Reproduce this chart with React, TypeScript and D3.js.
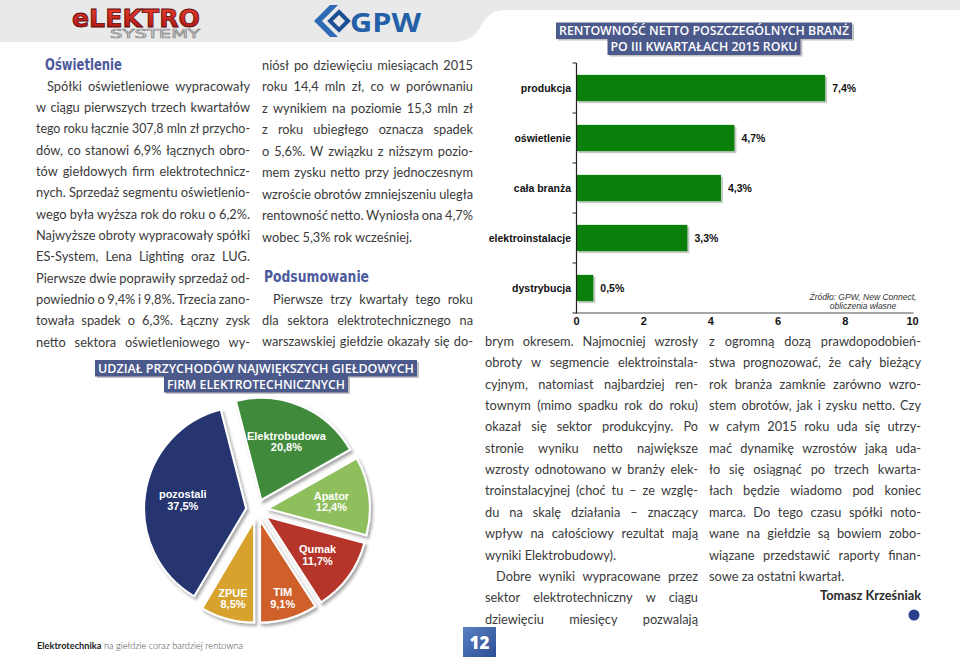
import { useEffect, useRef } from "react";
import * as d3 from "d3";

const W = 960;
const H = 657;

// bar chart: net profitability per segment
const barTitle = ["RENTOWNOŚĆ NETTO POSZCZEGÓLNYCH BRANŻ", "PO III KWARTAŁACH 2015 ROKU"];
const barCategories = ["produkcja", "oświetlenie", "cała branża", "elektroinstalacje", "dystrybucja"];
const barValues = [7.4, 4.7, 4.3, 3.3, 0.5];
const barTicks = [0, 2, 4, 6, 8, 10];
const barSource = ["Źródło: GPW, New Connect,", "obliczenia własne"];

// pie chart: revenue share
const pieTitle = ["UDZIAŁ PRZYCHODÓW  NAJWIĘKSZYCH GIEŁDOWYCH", "FIRM ELEKTROTECHNICZNYCH"];
const pieNames = ["Elektrobudowa", "Apator", "Qumak", "TIM", "ZPUE", "pozostali"];
const pieValues = [20.8, 12.4, 11.7, 9.1, 8.5, 37.5];
const pieColors = ["#3f8a3b", "#8fbf5c", "#b6342a", "#cf6029", "#d7a22e", "#26346f"];

// article text, line by line as set in print
const col1 = {
  heading: "Oświetlenie",
  lines: [
    "Spółki oświetleniowe wypracowały",
    "w ciągu pierwszych trzech kwartałów",
    "tego roku łącznie 307,8 mln zł przycho-",
    "dów, co stanowi 6,9% łącznych obro-",
    "tów giełdowych firm elektrotechnicz-",
    "nych. Sprzedaż segmentu oświetlenio-",
    "wego była wyższa rok do roku o 6,2%.",
    "Najwyższe obroty wypracowały spółki",
    "ES-System, Lena Lighting oraz LUG.",
    "Pierwsze dwie poprawiły sprzedaż od-",
    "powiednio o 9,4% i 9,8%. Trzecia zano-",
    "towała spadek o 6,3%. Łączny zysk",
    "netto sektora oświetleniowego wy-",
  ],
};
const col2a = [
  "niósł po dziewięciu miesiącach 2015",
  "roku 14,4 mln zł, co w porównaniu",
  "z wynikiem na poziomie 15,3 mln zł",
  "z roku ubiegłego oznacza spadek",
  "o 5,6%. W związku z niższym pozio-",
  "mem zysku netto przy jednoczesnym",
  "wzroście obrotów zmniejszeniu uległa",
  "rentowność netto. Wyniosła ona 4,7%",
  "wobec 5,3% rok wcześniej.",
];
const col2Heading = "Podsumowanie";
const col2b = [
  "Pierwsze trzy kwartały tego roku",
  "dla sektora elektrotechnicznego na",
  "warszawskiej giełdzie okazały się do-",
];
const col3a = [
  "brym okresem. Najmocniej wzrosły",
  "obroty w segmencie elektroinstala-",
  "cyjnym, natomiast najbardziej ren-",
  "townym (mimo spadku rok do roku)",
  "okazał się sektor produkcyjny. Po",
  "stronie wyniku netto największe",
  "wzrosty odnotowano w branży elek-",
  "troinstalacyjnej (choć tu – ze wzglę-",
  "du na skalę działania – znaczący",
  "wpływ na całościowy rezultat mają",
  "wyniki Elektrobudowy).",
];
const col3b = [
  "Dobre wyniki wypracowane przez",
  "sektor elektrotechniczny w ciągu",
  "dziewięciu miesięcy pozwalają",
];
const col4 = [
  "z ogromną dozą prawdopodobień-",
  "stwa prognozować, że cały bieżący",
  "rok branża zamknie zarówno wzro-",
  "stem obrotów, jak i zysku netto. Czy",
  "w całym 2015 roku uda się utrzy-",
  "mać dynamikę wzrostów jaką uda-",
  "ło się osiągnąć po trzech kwarta-",
  "łach będzie wiadomo pod koniec",
  "marca. Do tego czasu spółki noto-",
  "wane na giełdzie są bowiem zobo-",
  "wiązane przedstawić raporty finan-",
  "sowe za ostatni kwartał.",
];
const author = "Tomasz Krześniak";
const footer = ["Elektrotechnika", " na giełdzie coraz bardziej rentowna"];
const pageNo = "12";

const fmt = (v: number) => v.toFixed(1).replace(".", ",") + "%";

const App = () => {
  const svgRef = useRef<SVGSVGElement>(null);

  useEffect(() => {
    const svg = d3.select(svgRef.current);
    svg.selectAll("*").remove();

    const defs = svg.append("defs");
    const shadow = defs.append("filter").attr("id", "pieShadow")
      .attr("x", "-20%").attr("y", "-20%").attr("width", "140%").attr("height", "140%");
    shadow.append("feDropShadow").attr("dx", 2).attr("dy", 2.5).attr("stdDeviation", 1.8)
      .attr("flood-color", "#000").attr("flood-opacity", 0.35);

    const redGrad = defs.append("linearGradient").attr("id", "redGrad")
      .attr("x1", 0).attr("y1", 0).attr("x2", 0).attr("y2", 1);
    redGrad.append("stop").attr("offset", "0%").attr("stop-color", "#f0412f");
    redGrad.append("stop").attr("offset", "100%").attr("stop-color", "#a30f10");

    const pageGrad = defs.append("linearGradient").attr("id", "pageGrad")
      .attr("x1", 0).attr("y1", 0).attr("x2", 1).attr("y2", 1);
    pageGrad.append("stop").attr("offset", "0%").attr("stop-color", "#5a80c4");
    pageGrad.append("stop").attr("offset", "100%").attr("stop-color", "#2c4e96");

    // page background and header band
    svg.append("rect").attr("width", W).attr("height", H).attr("fill", "#fff");
    svg.append("path")
      .attr("d", "M0,0H960V10H506C493,10 487,16 482,24C477,34 470,42 452,42H0Z")
      .attr("fill", "#e9e9e9");

    // elektro systemy logo (small caps line sits just under the big word)
    svg.append("text").attr("x", 110).attr("y", 38)
      .attr("textLength", 90).attr("lengthAdjust", "spacingAndGlyphs")
      .style("font-family", "'DejaVu Sans', sans-serif").style("font-size", "12px")
      .attr("fill", "#f2f2f2").attr("stroke", "#8a8a8a").attr("stroke-width", 0.7)
      .text("SYSTEMY");
    svg.append("text").attr("x", 72).attr("y", 27)
      .attr("textLength", 128).attr("lengthAdjust", "spacingAndGlyphs")
      .style("font-family", "'DejaVu Sans', sans-serif").style("font-size", "24px")
      .style("font-weight", "bold")
      .attr("fill", "url(#redGrad)").attr("stroke", "#5a0a0a").attr("stroke-width", 0.8)
      .text("eLEKTRO");

    // GPW logo
    const gpw = svg.append("g");
    gpw.append("path").attr("d", "M330,5L314,21L330,37L338,37L322,21L338,5Z").attr("fill", "#2f6bb5");
    gpw.append("path").attr("d", "M339,12L348,21L339,30L330,21Z")
      .attr("fill", "none").attr("stroke", "#1d4f94").attr("stroke-width", 4);
    gpw.append("text").attr("x", 350).attr("y", 32)
      .attr("textLength", 71).attr("lengthAdjust", "spacingAndGlyphs")
      .style("font-family", "'Open Sans', sans-serif").style("font-size", "27px")
      .style("font-weight", 700).attr("fill", "#2360a8").text("GPW");

    // ---- article text ----
    const textG = svg.append("g")
      .style("font-family", "Lato, 'Open Sans', sans-serif")
      .style("font-size", "12.8px")
      .attr("fill", "#3a3a3a");

    const measure = textG.append("text").attr("x", -1000).attr("y", -1000);
    const widthOf = (s: string) => {
      measure.text(s);
      return (measure.node() as SVGTextElement).getComputedTextLength();
    };

    const setLines = (lines: string[], x0: number, x1: number, y0: number, lh: number,
      indent: boolean, ends: boolean) => {
      lines.forEach((line, i) => {
        const y = y0 + i * lh;
        const xs = i === 0 && indent ? x0 + 11 : x0;
        const t = textG.append("text").attr("y", y);
        if (ends && i === lines.length - 1) {
          t.attr("x", xs).text(line);
          return;
        }
        const words = line.split(" ");
        const widths = words.map(widthOf);
        const full = widthOf(line);
        const spaceW = (full - d3.sum(widths)) / Math.max(1, words.length - 1);
        const gap = (x1 - xs - d3.sum(widths)) / Math.max(1, words.length - 1);
        if (gap < spaceW * 0.7 || words.length < 2) {
          t.attr("x", xs).attr("textLength", x1 - xs).attr("lengthAdjust", "spacingAndGlyphs").text(line);
          return;
        }
        let x = xs;
        words.forEach((w, k) => {
          t.append("tspan").attr("x", x).text(w);
          x += widths[k] + gap;
        });
      });
    };

    const headingStyle = (sel: d3.Selection<SVGTextElement, unknown, null, undefined>) =>
      sel.style("font-family", "'DejaVu Sans Condensed', 'DejaVu Sans', sans-serif")
        .style("font-weight", "bold").style("font-stretch", "condensed")
        .style("font-size", "15px").attr("fill", "#4d5a9c")
        .attr("lengthAdjust", "spacingAndGlyphs");

    headingStyle(svg.append("text").attr("x", 45).attr("y", 70).attr("textLength", 77)).text(col1.heading);
    headingStyle(svg.append("text").attr("x", 264).attr("y", 282).attr("textLength", 105)).text(col2Heading);

    const LH = 21.35;
    setLines(col1.lines, 36, 250, 90.5, LH, true, false);
    setLines(col2a, 262, 473, 69.5, 21.55, false, true);
    setLines(col2b, 262, 473, 303.5, LH, true, false);
    setLines(col3a, 485, 698, 346, LH, false, true);
    setLines(col3b, 485, 698, 346 + col3a.length * LH, LH, true, false);
    setLines(col4, 709, 921, 346, LH, false, true);

    textG.append("text").attr("x", 921).attr("y", 600).attr("text-anchor", "end")
      .style("font-weight", 700).attr("fill", "#2a2a2a").text(author);
    svg.append("circle").attr("cx", 914).attr("cy", 615).attr("r", 5.5).attr("fill", "#2b3f8c");
    measure.remove();

    // ---- title boxes ----
    const titleBox = (lines: string[], cx: number, y0: number, widths: number[]) => {
      const g = svg.append("g");
      lines.forEach((s, i) => {
        const w = widths[i];
        const y = y0 + i * 16;
        g.append("rect").attr("x", cx - w / 2 + 2).attr("y", y + 2).attr("width", w).attr("height", 16)
          .attr("fill", "#8f8f8f").attr("opacity", 0.55);
      });
      lines.forEach((s, i) => {
        const w = widths[i];
        const y = y0 + i * 16;
        g.append("rect").attr("x", cx - w / 2).attr("y", y).attr("width", w).attr("height", 16.5)
          .attr("fill", "#4b598b");
        g.append("text").attr("x", cx - w / 2 + 3).attr("y", y + 12.5)
          .attr("textLength", w - 6).attr("lengthAdjust", "spacingAndGlyphs")
          .style("font-family", "'Open Sans', sans-serif").style("font-weight", 600)
          .style("font-size", "12px").attr("fill", "#fff").text(s);
      });
    };
    titleBox(barTitle, 704, 22.5, [296, 193]);
    titleBox(pieTitle, 256, 360, [322, 184]);

    // ---- bar chart ----
    const bx = d3.scaleLinear().domain([0, 10]).range([576.5, 912.5]);
    const by = d3.scaleBand<string>().domain(barCategories).range([63, 313])
      .paddingInner(0.474).paddingOuter(0.237);
    const bars = svg.append("g").style("font-family", "'Liberation Sans', Arial, sans-serif")
      .style("font-weight", "bold");

    bars.selectAll(".bar-shadow").data(barValues).enter().append("rect")
      .attr("x", bx(0) + 2).attr("y", (d, i) => (by(barCategories[i]) as number) + 2)
      .attr("width", d => bx(d) - bx(0)).attr("height", by.bandwidth())
      .attr("fill", "#8fa08f").attr("opacity", 0.55);
    bars.selectAll(".bar").data(barValues).enter().append("rect")
      .attr("x", bx(0)).attr("y", (d, i) => by(barCategories[i]) as number)
      .attr("width", d => bx(d) - bx(0)).attr("height", by.bandwidth())
      .attr("fill", "#0a7f0a");

    bars.selectAll(".cat").data(barCategories).enter().append("text")
      .attr("x", 571).attr("y", d => (by(d) as number) + by.bandwidth() / 2 + 4)
      .attr("text-anchor", "end").style("font-size", "10.5px").attr("fill", "#111").text(d => d);
    bars.selectAll(".val").data(barValues).enter().append("text")
      .attr("x", d => bx(d) + 7).attr("y", (d, i) => (by(barCategories[i]) as number) + by.bandwidth() / 2 + 4)
      .style("font-size", "10.5px").attr("fill", "#111").text(d => fmt(d));

    // axes
    bars.append("line").attr("x1", bx(0)).attr("x2", bx(10) + 1).attr("y1", 313).attr("y2", 313)
      .attr("stroke", "#888").attr("stroke-width", 1.5);
    bars.append("line").attr("x1", bx(0)).attr("x2", bx(0)).attr("y1", 63).attr("y2", 313.5)
      .attr("stroke", "#222").attr("stroke-width", 1.2);
    d3.range(barCategories.length + 1).forEach(k => {
      const y = 63 + k * by.step();
      bars.append("line").attr("x1", bx(0) - 4).attr("x2", bx(0)).attr("y1", y).attr("y2", y)
        .attr("stroke", "#222").attr("stroke-width", 1);
    });
    bars.selectAll(".tick").data(barTicks).enter().append("text")
      .attr("x", d => bx(d)).attr("y", 325).attr("text-anchor", "middle")
      .style("font-size", "11px").attr("fill", "#111").text(d => d);

    bars.selectAll(".src").data(barSource).enter().append("text")
      .attr("x", 863).attr("y", (d, i) => 300 + i * 8.5).attr("text-anchor", "middle")
      .style("font-weight", "normal").style("font-style", "italic").style("font-size", "8.5px")
      .attr("fill", "#333").text(d => d);

    // ---- pie chart ----
    const cx = 257, cy = 510, R = 102, off = 11;
    const total = d3.sum(pieValues);
    // the boundary between TIM and ZPUE sits at the bottom of the pie
    const start = Math.PI - (d3.sum(pieValues.slice(0, 4)) / total) * 2 * Math.PI;
    const pie = d3.pie<number>().sort(null).value(d => d).startAngle(start).endAngle(start + 2 * Math.PI);
    const arcs = pie(pieValues);
    const arc = d3.arc<d3.PieArcDatum<number>>().innerRadius(0).outerRadius(R);

    const pg = svg.append("g").attr("transform", `translate(${cx},${cy})`);
    const slices = pg.selectAll(".slice").data(arcs).enter().append("g")
      .attr("transform", d => {
        const m = (d.startAngle + d.endAngle) / 2;
        return `translate(${off * Math.sin(m)},${-off * Math.cos(m)})`;
      });
    slices.append("path").attr("d", arc).attr("fill", (d, i) => pieColors[i])
      .attr("stroke", "#fff").attr("stroke-width", 2).attr("filter", "url(#pieShadow)");

    const labels = slices.append("text")
      .attr("transform", d => {
        const m = (d.startAngle + d.endAngle) / 2;
        const r = d.value >= 10 ? 64 : 80;
        return `translate(${r * Math.sin(m)},${-r * Math.cos(m)})`;
      })
      .attr("text-anchor", "middle")
      .style("font-family", "'Liberation Sans', Arial, sans-serif").style("font-weight", "bold")
      .style("font-size", "11px").attr("fill", "#fff");
    labels.append("tspan").attr("x", 0).attr("y", -1).text((d, i) => pieNames[i]);
    labels.append("tspan").attr("x", 0).attr("y", 10.5).text(d => fmt(d.value));

    // ---- footer ----
    const ft = svg.append("text").attr("x", 37).attr("y", 649)
      .attr("textLength", 206).attr("lengthAdjust", "spacingAndGlyphs")
      .style("font-family", "Lato, sans-serif").style("font-size", "9.5px");
    ft.append("tspan").style("font-weight", 700).attr("fill", "#222").text(footer[0]);
    ft.append("tspan").style("font-weight", 300).attr("fill", "#444").text(footer[1]);

    svg.append("rect").attr("x", 463).attr("y", 627).attr("width", 33).attr("height", 30)
      .attr("fill", "url(#pageGrad)");
    svg.append("text").attr("x", 479.5).attr("y", 648.5).attr("text-anchor", "middle")
      .style("font-family", "'Open Sans', sans-serif").style("font-weight", 800)
      .style("font-size", "17px").attr("fill", "#fff").text(pageNo);
  }, []);

  return (
    <>
      <style>{`body{margin:0}`}</style>
      <svg ref={svgRef} width={W} height={H} style={{ display: "block" }} />
    </>
  );
};

export default App;
